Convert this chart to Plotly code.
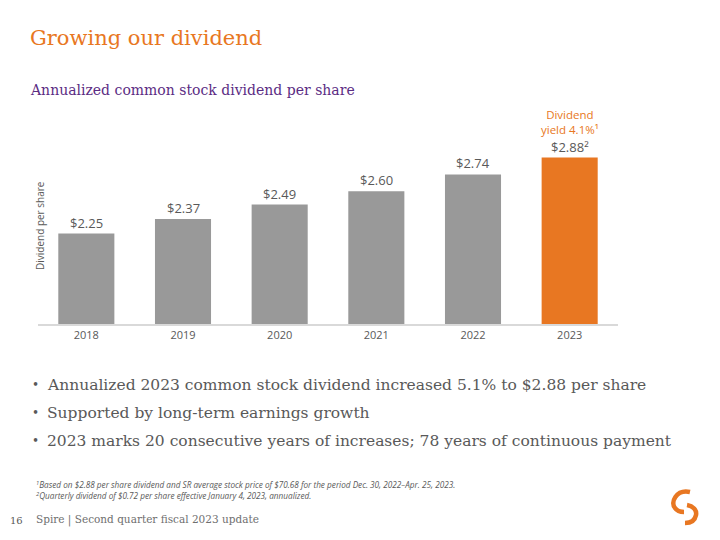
import plotly.graph_objects as go

years = ["2018", "2019", "2020", "2021", "2022", "2023"]
dividends = [2.25, 2.37, 2.49, 2.60, 2.74, 2.88]
bar_labels = ["$2.25", "$2.37", "$2.49", "$2.60", "$2.74", "$2.88²"]
bar_colors = ["#999999"] * 5 + ["#E87722"]

bullets = [
    "Annualized 2023 common stock dividend increased 5.1% to &#36;2.88 per share",
    "Supported by long-term earnings growth",
    "2023 marks 20 consecutive years of increases; 78 years of continuous payment",
]
footnotes = [
    "<sup>1</sup>Based on &#36;2.88 per share dividend and SR average stock price of &#36;70.68 for the period Dec. 30, 2022–Apr. 25, 2023.",
    "<sup>2</sup>Quarterly dividend of &#36;0.72 per share effective January 4, 2023, annualized.",
]

ORANGE = "#E87722"
GRAY_TXT = "#595959"
SERIF = "DejaVu Serif, serif"
SANS = "Open Sans, Lato, sans-serif"

OFF = 8  # page body margin
# plot area in reference pixels: x 38..618, y 100..324
L, R, T, B = 38 - OFF, 720 - 618 + OFF, 100 - OFF, 540 - 324 + OFF
PW, PH = 720 - L - R, 540 - T - B

fig = go.Figure()
fig.add_trace(go.Bar(
    x=years, y=dividends, marker=dict(color=bar_colors, line=dict(width=0)),
    hoverinfo="skip",
))

fig.update_layout(
    width=720, height=540,
    margin=dict(l=L, r=R, t=T, b=B, autoexpand=False),
    paper_bgcolor="white", plot_bgcolor="white",
    bargap=0.42, showlegend=False,
    xaxis=dict(type="category", range=[-0.5, len(years) - 0.5], showgrid=False,
               showline=True, linecolor="#D9D9D9", linewidth=2,
               ticks="", tickfont=dict(family=SANS, size=11, color=GRAY_TXT),
               automargin=False, fixedrange=True),
    yaxis=dict(range=[1.5, 3.357], showgrid=False, showticklabels=False,
               zeroline=False, showline=False, automargin=False, fixedrange=True),
)

# value labels above bars
for i, (v, lab) in enumerate(zip(dividends, bar_labels)):
    fig.add_annotation(text=lab, x=i, y=v, xref="x", yref="y", showarrow=False,
                       yanchor="bottom", yshift=0,
                       font=dict(size=13, color=GRAY_TXT, family=SANS))


def pa(text, x, y, size, color, family, xanchor="left", yanchor="middle", textangle=0):
    fx, fy = x - OFF, y - OFF
    fig.add_annotation(text=text, x=(fx - L) / PW, y=(540 - B - fy) / PH,
                       xref="paper", yref="paper", showarrow=False,
                       xanchor=xanchor, yanchor=yanchor, align="left",
                       font=dict(size=size, color=color, family=family),
                       textangle=textangle)


pa("Growing our dividend", 28, 38, 21, ORANGE, SERIF)
pa("Annualized common stock dividend per share", 28, 90, 14, "#5B2C83", SERIF)
pa("Dividend per share", 40, 226, 10, GRAY_TXT, SANS, xanchor="center", textangle=-90)

fig.add_annotation(text="Dividend<br>yield 4.1%¹", x=len(years) - 1, y=dividends[-1],
                   xref="x", yref="y", showarrow=False, yanchor="bottom", yshift=19,
                   font=dict(size=11.5, color=ORANGE, family=SANS), align="center")

for i, b in enumerate(bullets):
    pa("•", 30, 385 + i * 28, 12, GRAY_TXT, SERIF)
    pa(b, 45, 385 + i * 28, 15.5, GRAY_TXT, SERIF)

for i, f in enumerate(footnotes):
    pa("<i>" + f + "</i>", 34, 484 + i * 11, 8.2, GRAY_TXT, SANS)

pa("16", 8, 520, 10, GRAY_TXT, SERIF)
pa("Spire | Second quarter fiscal 2023 update", 34, 520, 10.5, "#6f6f6f", SERIF)


def P(x, y):
    fx, fy = x - OFF, y - OFF
    return "{:.4f},{:.4f}".format((fx - L) / PW, (540 - B - fy) / PH)


fig.add_shape(type="path", xref="paper", yref="paper",
              path="M " + P(690, 492) + " C " + P(676, 489) + " " + P(670, 503) + " " + P(675, 508)
                   + " C " + P(677, 511) + " " + P(680, 512) + " " + P(684, 512),
              line=dict(color=ORANGE, width=4.5))
fig.add_shape(type="path", xref="paper", yref="paper",
              path="M " + P(687, 505) + " C " + P(693, 506) + " " + P(697, 510) + " " + P(696, 515)
                   + " C " + P(695, 520) + " " + P(691, 523) + " " + P(685, 523),
              line=dict(color=ORANGE, width=4.5))

fig.write_html("out.html")
